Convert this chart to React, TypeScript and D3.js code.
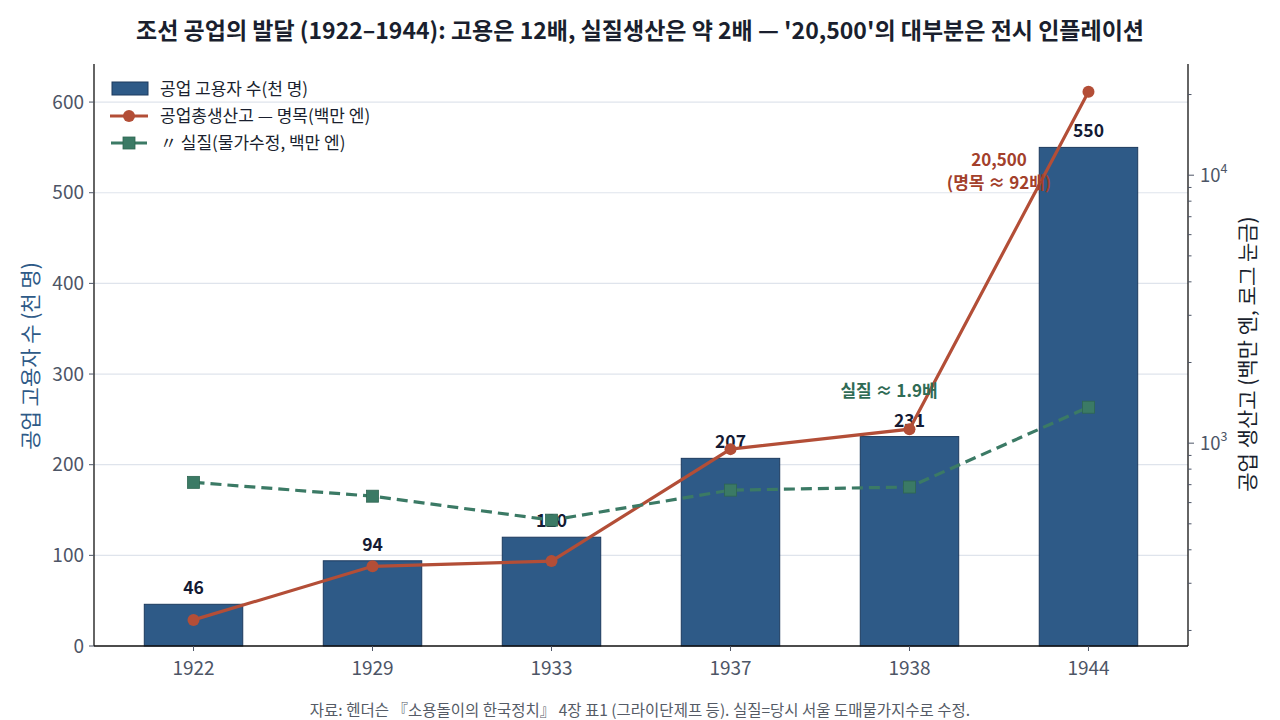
import React from "react";
import * as d3 from "d3";

const years = ["1922", "1929", "1933", "1937", "1938", "1944"];
const employment = [46, 94, 120, 207, 231, 550];
const nominal = [219, 347, 363, 950, 1128, 20500];
const real = [714, 634, 516, 668, 686, 1362];
const leftTicks = [0, 100, 200, 300, 400, 500, 600];

const W = 1280, H = 720;
const M = { l: 94, r: 1188, t: 64, b: 646 };
const BAR = "#2e5a87";
const BAR_EDGE = "#1c3a5e";
const RED = "#b34e37";
const GREEN = "#3b7a65";
const TICK = "#4d5566";
const FONT = "'Noto Sans CJK KR', 'Noto Sans', sans-serif";

export default function App() {
  const x = d3.scaleLinear().domain([-0.556, 5.556]).range([M.l, M.r]);
  const yL = d3.scaleLinear().domain([0, 642]).range([M.b, M.t]);
  const yR = d3.scaleLog().domain([175, 26000]).range([M.b, M.t]);
  const bw = 0.55 * (x(1) - x(0));

  const line = (vals: number[]) =>
    d3.line<number>().x((_, i) => x(i)).y((v) => yR(v))(vals) || "";

  const minor: number[] = [];
  [100, 1000, 10000].forEach((d) => {
    for (let k = 2; k <= 9; k++) {
      const v = d * k;
      if (v >= 175 && v <= 26000) minor.push(v);
    }
  });
  const major = [1000, 10000];

  return (
    <svg width={W} height={H} style={{ display: "block", position: "absolute", left: 0, top: 0 }} fontFamily={FONT}>
      <rect width={W} height={H} fill="#fff" />
      <text x={640} y={39} textAnchor="middle" fontSize={23} fontWeight="bold" fill="#1a1f2e">
        조선 공업의 발달 (1922–1944): 고용은 12배, 실질생산은 약 2배 — '20,500'의 대부분은 전시 인플레이션
      </text>

      {/* grid */}
      {leftTicks.filter((t) => t > 0).map((t) => (
        <line key={t} x1={M.l} x2={M.r} y1={yL(t)} y2={yL(t)} stroke="#dfe4ec" strokeWidth={1.2} />
      ))}

      {/* bars */}
      {employment.map((v, i) => (
        <rect key={i} x={x(i) - bw / 2} y={yL(v)} width={bw} height={yL(0) - yL(v)} fill={BAR} stroke={BAR_EDGE} strokeWidth={1} />
      ))}
      {employment.map((v, i) => (
        <text key={i} x={x(i)} y={yL(v) - 10} textAnchor="middle" fontSize={17.5} fontWeight="bold" fill="#141a33">
          {v}
        </text>
      ))}

      {/* lines */}
      <path d={line(nominal)} fill="none" stroke={RED} strokeWidth={3.2} />
      {nominal.map((v, i) => (
        <circle key={i} cx={x(i)} cy={yR(v)} r={6} fill={RED} />
      ))}
      <path d={line(real)} fill="none" stroke={GREEN} strokeWidth={3.2} strokeDasharray="11,6" />
      {real.map((v, i) => (
        <rect key={i} x={x(i) - 6} y={yR(v) - 6} width={12} height={12} fill={GREEN} stroke="#2f6652" strokeWidth={0.8} />
      ))}

      {/* annotations */}
      <text x={999} y={166} textAnchor="middle" fontSize={17} fontWeight="bold" fill="#a3402b">20,500</text>
      <text x={999} y={189} textAnchor="middle" fontSize={17} fontWeight="bold" fill="#a3402b">(명목 ≈ 92배)</text>
      <text x={889} y={397} textAnchor="middle" fontSize={17} fontWeight="bold" fill="#2f6b55">실질 ≈ 1.9배</text>

      {/* spines */}
      <line x1={M.l} x2={M.l} y1={M.t} y2={M.b} stroke="#111" strokeWidth={1.3} />
      <line x1={M.r} x2={M.r} y1={M.t} y2={M.b} stroke="#111" strokeWidth={1.3} />
      <line x1={M.l} x2={M.r} y1={M.b} y2={M.b} stroke="#111" strokeWidth={1.3} />

      {/* left ticks */}
      {leftTicks.map((t) => (
        <g key={t}>
          <line x1={M.l - 5} x2={M.l} y1={yL(t)} y2={yL(t)} stroke={TICK} />
          <text x={M.l - 10} y={yL(t) + 6.5} textAnchor="end" fontSize={19} fill={TICK}>{t}</text>
        </g>
      ))}
      {/* x ticks */}
      {years.map((yr, i) => (
        <g key={yr}>
          <line x1={x(i)} x2={x(i)} y1={M.b} y2={M.b + 5} stroke={TICK} />
          <text x={x(i)} y={M.b + 29} textAnchor="middle" fontSize={19} fill={TICK}>{yr}</text>
        </g>
      ))}
      {/* right ticks */}
      {minor.map((v) => (
        <line key={v} x1={M.r} x2={M.r + 3.5} y1={yR(v)} y2={yR(v)} stroke={TICK} />
      ))}
      {major.map((v) => (
        <g key={v}>
          <line x1={M.r} x2={M.r + 6} y1={yR(v)} y2={yR(v)} stroke={TICK} />
          <text x={M.r + 12} y={yR(v) + 7} fontSize={18.5} fill={TICK}>
            10<tspan dy={-9} fontSize={12.5}>{Math.round(Math.log10(v))}</tspan>
          </text>
        </g>
      ))}

      {/* axis labels */}
      <text transform={`translate(38,356) rotate(-90)`} textAnchor="middle" fontSize={21} fill={BAR}>
        공업 고용자 수 (천 명)
      </text>
      <text transform={`translate(1255,354) rotate(-90)`} textAnchor="middle" fontSize={21} fill="#1a1f2e">
        공업 생산고 (백만 엔, 로그 눈금)
      </text>

      {/* legend */}
      <g fontSize={17} fill="#1a1f2e">
        <rect x={112} y={82} width={36} height={13} fill={BAR} stroke={BAR_EDGE} />
        <text x={160} y={95}>공업 고용자 수(천 명)</text>
        <line x1={110} x2={148} y1={116} y2={116} stroke={RED} strokeWidth={3.2} />
        <circle cx={129} cy={116} r={6} fill={RED} />
        <text x={160} y={122}>공업총생산고 — 명목(백만 엔)</text>
        <line x1={111} x2={147} y1={143} y2={143} stroke={GREEN} strokeWidth={3.2} />
        <rect x={123} y={137} width={12} height={12} fill={GREEN} stroke="#2f6652" strokeWidth={0.8} />
        <text x={160} y={149}>〃 실질(물가수정, 백만 엔)</text>
      </g>

      <text x={640} y={716} textAnchor="middle" fontSize={15.5} fill="#555b66">
        자료: 헨더슨 『소용돌이의 한국정치』 4장 표1 (그라이단제프 등). 실질=당시 서울 도매물가지수로 수정.
      </text>
    </svg>
  );
}
